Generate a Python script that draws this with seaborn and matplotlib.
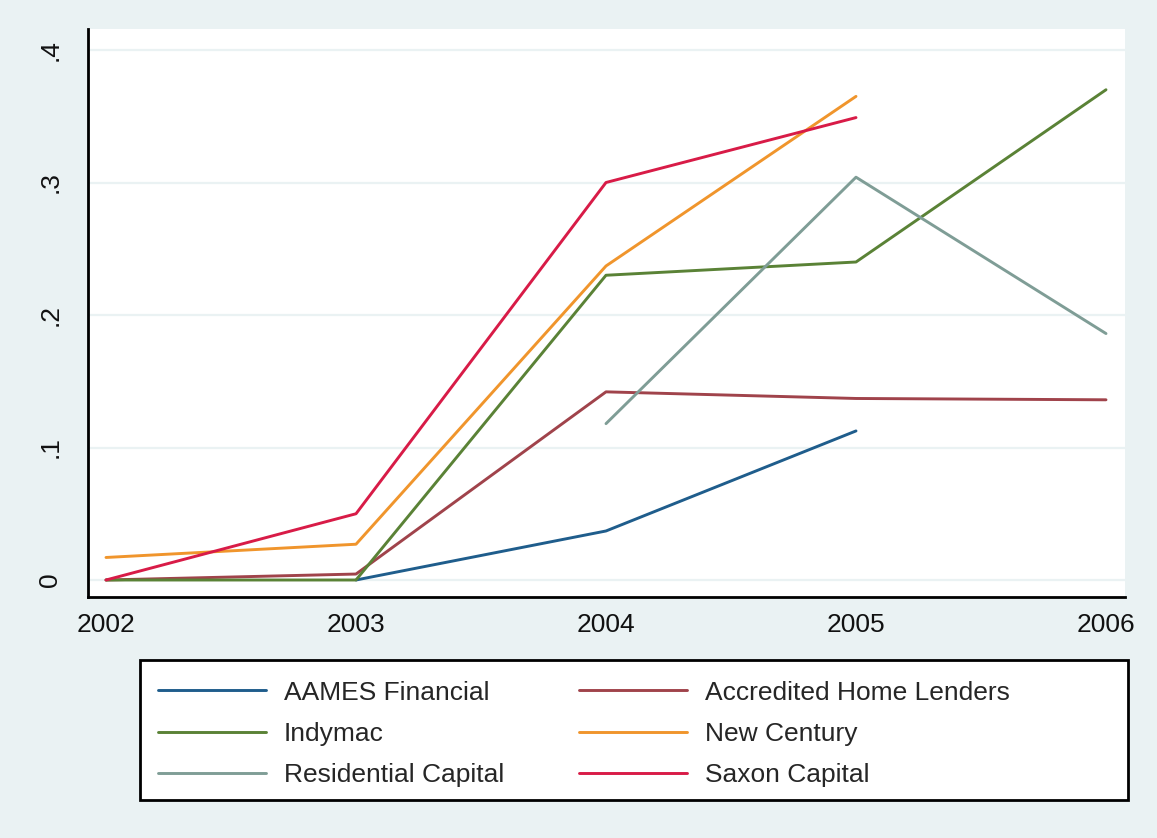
import matplotlib.pyplot as plt
import matplotlib.patches as mpatches
import pandas as pd
import seaborn as sns

# values (share by year)
years_aames = [2003, 2004, 2005]
aames = [0.0, 0.037, 0.1125]

years_accredited = [2002, 2003, 2004, 2005, 2006]
accredited = [0.0, 0.0045, 0.142, 0.137, 0.136]

years_indymac = [2002, 2003, 2004, 2005, 2006]
indymac = [0.0, 0.0, 0.230, 0.240, 0.370]

years_newcentury = [2002, 2003, 2004, 2005]
newcentury = [0.017, 0.027, 0.237, 0.365]

years_rescap = [2004, 2005, 2006]
rescap = [0.118, 0.304, 0.186]

years_saxon = [2002, 2003, 2004, 2005]
saxon = [0.0, 0.050, 0.300, 0.349]

LENDERS = [
    "AAMES Financial",
    "Accredited Home Lenders",
    "Indymac",
    "New Century",
    "Residential Capital",
    "Saxon Capital",
]
COLORS = ["#1f5d8c", "#a0434b", "#5a8236", "#f0952c", "#7f9d96", "#d81b47"]

x_ticks = [2002, 2003, 2004, 2005, 2006]
y_ticks = [0, 0.1, 0.2, 0.3, 0.4]
y_labels = ["0", ".1", ".2", ".3", ".4"]

BG = "#eaf2f3"


def build_frame():
    series = [
        (years_aames, aames),
        (years_accredited, accredited),
        (years_indymac, indymac),
        (years_newcentury, newcentury),
        (years_rescap, rescap),
        (years_saxon, saxon),
    ]
    parts = []
    for name, (yrs, vals) in zip(LENDERS, series):
        parts.append(pd.DataFrame({"year": yrs, "share": vals, "lender": name}))
    return pd.concat(parts, ignore_index=True)


def main():
    sns.set_style("white")
    plt.rcParams["font.family"] = ["Liberation Sans", "DejaVu Sans"]

    df = build_frame()

    fig = plt.figure(figsize=(11.57, 8.38), dpi=100, facecolor=BG)
    ax = fig.add_axes([88 / 1157, 1 - 597 / 838, (1125 - 88) / 1157, (597 - 29) / 838])
    ax.set_facecolor("white")

    sns.lineplot(
        data=df,
        x="year",
        y="share",
        hue="lender",
        hue_order=LENDERS,
        palette=COLORS,
        linewidth=2.1,
        ax=ax,
        legend=False,
    )

    ax.set_xlim(2002 - 18 / 250, 2006 + 19 / 250)
    ax.set_ylim(-17 / 1325, 0.4 + 21 / 1325)
    ax.set_xticks(x_ticks)
    ax.set_xticklabels([str(t) for t in x_ticks])
    ax.set_yticks(y_ticks)
    ax.set_yticklabels(y_labels, rotation=90, va="center")
    ax.set_xlabel("")
    ax.set_ylabel("")

    ax.yaxis.grid(True, color=BG, linewidth=1.6)
    ax.xaxis.grid(False)
    ax.set_axisbelow(True)

    for side in ["top", "right"]:
        ax.spines[side].set_visible(False)
    for side in ["left", "bottom"]:
        ax.spines[side].set_linewidth(2.0)
        ax.spines[side].set_color("black")

    ax.tick_params(axis="both", direction="out", length=8.5, width=2.0, color="black",
                   labelsize=19, labelcolor="#111111")
    ax.tick_params(axis="y", pad=10)
    ax.tick_params(axis="x", pad=3)

    # legend box (Stata-style, below the plot)
    rect = mpatches.Rectangle(
        (140 / 1157, 1 - 800 / 838), 988 / 1157, 140 / 838,
        transform=fig.transFigure, facecolor="white", edgecolor="black",
        linewidth=2.0, zorder=1,
    )
    fig.patches.append(rect)

    # legend reads row-wise; matplotlib fills columns first
    order = [0, 2, 4, 1, 3, 5]
    handles = [plt.Line2D([], [], color=COLORS[i], linewidth=2.1) for i in order]
    labels = [LENDERS[i] for i in order]
    fig.legend(
        handles, labels,
        loc="upper left",
        bbox_to_anchor=(147 / 1157, 1 - 670 / 838),
        ncol=2,
        frameon=False,
        fontsize=19,
        handlelength=4.1,
        handletextpad=0.68,
        columnspacing=2.84,
        labelspacing=0.66,
        borderaxespad=0,
    )

    fig.savefig("out.png", dpi=100, facecolor=BG)


if __name__ == "__main__":
    main()
